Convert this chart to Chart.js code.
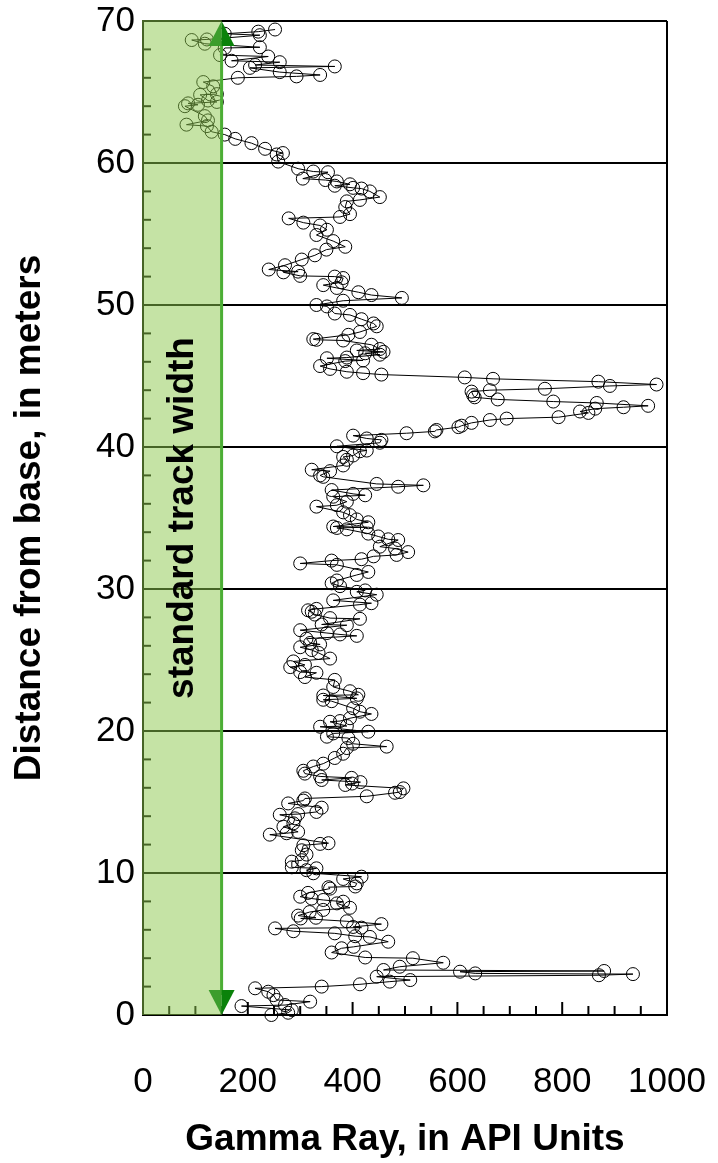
<!DOCTYPE html>
<html>
<head>
<meta charset="utf-8">
<script src="https://cdn.jsdelivr.net/npm/chart.js@4.4.0/dist/chart.umd.min.js"></script>
<style>
  html, body { margin: 0; padding: 0; background: #fff; }
  #wrap { width: 718px; height: 1163px; }
</style>
</head>
<body>
<div id="wrap"><canvas id="gammaChart" width="718" height="1163"></canvas></div>
<script>
// Gamma-Ray-Log: Abstand von der Basis (m) gegen Gamma Ray (API)

// Tiefe in m (von unten nach oben)
const tiefe = [
  0.0, 0.16, 0.35, 0.63, 0.7, 0.94, 1.06, 1.4, 1.64, 1.88, 2.0, 2.16, 2.35, 2.46, 2.7, 2.8, 2.88, 2.93, 3.05, 3.1, 3.17, 3.4, 3.68,
  4.0, 4.05, 4.4, 4.7, 4.8, 5.16, 5.5, 5.55, 5.75, 5.9, 6.1, 6.15, 6.2, 6.4, 6.6, 6.8, 6.85, 7.0, 7.25, 7.4,
  7.55, 7.86, 7.98, 8.1, 8.2, 8.33, 8.6, 8.9, 9.0, 9.05, 9.27, 9.58, 9.74, 9.98, 10.2, 10.33, 10.4, 10.8, 10.9, 11.3,
  11.6, 11.95, 12.05, 12.1, 12.7, 12.8, 12.9, 13.26, 13.5, 13.85, 14.1, 14.15, 14.3, 14.6, 14.9, 15.1, 15.25, 15.4, 15.65, 15.7,
  15.96, 16.2, 16.3, 16.4, 16.55, 16.7, 16.8, 17.0, 17.2, 17.5, 17.7, 18.1, 18.4, 18.8, 18.9, 19.1, 19.5, 19.6, 19.83, 19.95,
  20.3, 20.35, 20.65, 20.7, 20.9, 21.2, 21.36, 21.6, 22.1, 22.2, 22.3, 22.5, 22.55, 22.8, 23.1, 23.6, 23.8, 24.1, 24.15, 24.5,
  24.65, 24.9, 25.1, 25.5, 25.7, 25.9, 26.1, 26.2, 26.5, 26.7, 26.8, 26.9, 27.1, 27.45, 27.5, 27.9, 27.95, 28.2, 28.4, 28.5,
  28.6, 28.9, 29.0, 29.2, 29.6, 29.8, 29.9, 30.2, 30.4, 30.6, 30.99, 31.2, 31.7, 31.8, 32.0, 32.1, 32.3, 32.4, 32.6, 32.85,
  32.98, 33.45, 33.5, 33.7, 33.9, 34.2, 34.3, 34.35, 34.4, 34.7, 34.9, 35.2, 35.4, 35.8, 35.9, 36.15, 36.5, 36.6, 36.7, 36.97,
  37.2, 37.3, 37.4, 37.9, 38.0, 38.3, 38.4, 38.7, 39.1, 39.3, 39.4, 39.7, 39.75, 40.05, 40.3, 40.5, 40.6, 40.8, 40.97, 41.1,
  41.2, 41.4, 41.5, 41.7, 41.9, 42.0, 42.1, 42.4, 42.5, 42.7, 42.8, 42.9, 43.1, 43.2, 43.35, 43.5, 43.65, 43.9, 44.0, 44.1,
  44.3, 44.4, 44.6, 44.8, 44.9, 45.1, 45.2, 45.3, 45.5, 45.7, 46.05, 46.1, 46.25, 46.3, 46.5, 46.6, 46.7, 46.8, 46.9, 47.2,
  47.5, 47.55, 47.6, 47.9, 48.1, 48.5, 48.7, 49.0, 49.3, 49.4, 49.9, 50.0, 50.3, 50.5, 50.7, 50.9, 51.2, 51.4, 51.6, 51.9,
  52.0, 52.05, 52.3, 52.35, 52.5, 52.8, 53.2, 53.5, 53.9, 54.1, 54.5, 54.93, 55.3, 55.6, 55.8, 56.1, 56.2, 56.4, 56.9, 57.3,
  57.4, 57.6, 58.0, 58.2, 58.25, 58.4, 58.5, 58.7, 58.8, 58.9, 59.35, 59.4, 59.6, 60.1, 60.6, 60.7, 61.0, 61.4, 61.7, 62.0,
  62.2, 62.6, 62.7, 63.0, 63.3, 64.0, 64.1, 64.2, 64.3, 64.4, 64.8, 64.85, 65.4, 65.7, 66.0, 66.1, 66.2, 66.4, 66.7, 66.8,
  66.9, 67.1, 67.2, 67.5, 67.6, 68.1, 68.15, 68.4, 68.66, 68.7, 69.0, 69.1, 69.25, 69.4
];

// Gamma Ray in API Units, gleiche Reihenfolge wie tiefe
const gamma = [
  245, 277, 284, 188, 271, 319, 255, 249, 239, 214, 341, 414, 471, 510, 446, 870, 935, 634, 605, 880, 459, 490, 573,
  515, 424, 360, 379, 402, 468, 433, 405, 366, 287, 252, 417, 401, 455, 389, 301, 330, 296, 318, 344,
  395, 370, 382, 344, 322, 300, 315, 357, 354, 405, 408, 382, 417, 325, 312, 331, 284, 284, 303, 312,
  303, 306, 338, 354, 242, 274, 296, 268, 287, 290, 261, 296, 331, 341, 277, 306, 309, 427, 481, 490,
  497, 386, 399, 415, 341, 398, 338, 309, 306, 325, 344, 366, 382, 389, 465, 401, 392, 351, 363, 430,
  338, 389, 357, 376, 395, 436, 414, 401, 360, 344, 408, 344, 411, 395, 363, 366, 309, 331, 300, 281,
  309, 287, 357, 335, 322, 300, 338, 319, 312, 408, 376, 351, 300, 389, 341, 414, 357, 328, 322, 315,
  331, 414, 436, 363, 446, 408, 424, 376, 360, 370, 408, 430, 370, 300, 360, 417, 440, 484, 506, 481,
  452, 487, 468, 449, 430, 389, 370, 427, 363, 430, 408, 395, 382, 331, 370, 389, 363, 424, 401, 360,
  487, 535, 446, 344, 338, 357, 322, 382, 389, 382, 401, 414, 427, 370, 452, 455, 427, 401, 503, 557,
  560, 602, 608, 627, 662, 694, 793, 850, 834, 863, 917, 964, 866, 783, 677, 633, 630, 627, 662, 767,
  891, 980, 869, 668, 614, 455, 420, 389, 357, 338, 386, 420, 351, 389, 452, 424, 459, 408, 452, 436,
  382, 331, 325, 392, 414, 446, 440, 417, 395, 366, 351, 331, 382, 494, 436, 411, 370, 344, 379, 382,
  366, 300, 268, 296, 240, 271, 303, 328, 350, 386, 363, 331, 351, 338, 306, 278, 376, 395, 386, 389,
  414, 452, 433, 417, 401, 366, 395, 370, 348, 305, 353, 325, 296, 258, 255, 267, 233, 207, 176, 156,
  131, 122, 83, 124, 118, 80, 105, 86, 141, 124, 109, 141, 134, 115, 181, 293, 338, 261, 204, 366,
  214, 261, 169, 239, 147, 156, 223, 118, 93, 122, 223, 156, 220, 252
];

const xMin = 0, xMax = 1000, xStep = 200;
const yMin = 0, yMax = 70, yStep = 10;
const spurBreite = 150;   // standard track width (API)
const spurText = 'standard track width';

const punkte = gamma.map((g, i) => ({ x: g, y: tiefe[i] }));

const schrift = '"Liberation Sans", Arial, sans-serif';

// ========== Rahmen + Ticks nach innen ==========
const achsenTicks = {
  id: 'achsenTicks',
  beforeDatasetsDraw(chart) {
    const { ctx, chartArea: a, scales: { x, y } } = chart;
    ctx.save();
    ctx.strokeStyle = '#000';
    ctx.lineWidth = 2;
    ctx.beginPath();
    ctx.moveTo(a.right, a.top);
    ctx.lineTo(a.right, a.bottom);
    ctx.stroke();
    // links: alle 2 m
    for (let v = yMin + 2; v < yMax; v += 2) {
      if (v % yStep === 0) continue;
      const py = y.getPixelForValue(v);
      ctx.beginPath();
      ctx.moveTo(a.left, py);
      ctx.lineTo(a.left + 8, py);
      ctx.stroke();
    }
    // unten: alle 50 API, 200er länger
    for (let v = xMin + 50; v < xMax; v += 50) {
      const px = x.getPixelForValue(v);
      const len = v % xStep === 0 ? 13 : 9;
      ctx.beginPath();
      ctx.moveTo(px, a.bottom);
      ctx.lineTo(px, a.bottom - len);
      ctx.stroke();
    }
    ctx.restore();
  }
};

function spitze(ctx, cx, tipY, dir) {
  const h = 25, b = 13;
  ctx.fillStyle = '#3c9d2c';
  ctx.beginPath();
  ctx.moveTo(cx, tipY);
  ctx.lineTo(cx - b, tipY + dir * h);
  ctx.lineTo(cx, tipY + dir * h);
  ctx.closePath();
  ctx.fill();
  ctx.fillStyle = '#0a820a';
  ctx.beginPath();
  ctx.moveTo(cx, tipY);
  ctx.lineTo(cx + b, tipY + dir * h);
  ctx.lineTo(cx, tipY + dir * h);
  ctx.closePath();
  ctx.fill();
}

// ========== grünes Band + Doppelpfeil + Text ==========
const spurBand = {
  id: 'spurBand',
  afterDraw(chart) {
    const { ctx, scales: { x, y } } = chart;
    const x0 = x.getPixelForValue(xMin);
    const x1 = x.getPixelForValue(spurBreite);
    const yTop = y.getPixelForValue(yMax);
    const yBot = y.getPixelForValue(yMin);
    ctx.save();
    ctx.fillStyle = 'rgba(140, 200, 75, 0.5)';
    ctx.fillRect(x0 - 1, yTop - 1, x1 - x0 + 1, yBot - yTop + 1);

    ctx.strokeStyle = '#4cae35';
    ctx.lineWidth = 3;
    ctx.beginPath();
    ctx.moveTo(x1, yTop + 20);
    ctx.lineTo(x1, yBot - 20);
    ctx.stroke();
    spitze(ctx, x1, yTop, 1);
    spitze(ctx, x1, yBot, -1);

    ctx.translate(x.getPixelForValue(spurBreite / 2), (yTop + yBot) / 2);
    ctx.rotate(-Math.PI / 2);
    ctx.font = 'bold 37px ' + schrift;
    ctx.fillStyle = '#000';
    ctx.textAlign = 'center';
    ctx.textBaseline = 'middle';
    ctx.fillText(spurText, 0, 0);
    ctx.restore();
  }
};

const ctx = document.getElementById('gammaChart').getContext('2d');
new Chart(ctx, {
  type: 'scatter',
  data: {
    datasets: [{
      data: punkte,
      showLine: true,
      borderColor: '#000',
      borderWidth: 1,
      pointRadius: 6.5,
      pointBorderWidth: 1,
      pointBorderColor: '#000',
      pointBackgroundColor: 'rgba(0,0,0,0)',
      clip: false
    }]
  },
  options: {
    responsive: false,
    animation: false,
    devicePixelRatio: 1,
    layout: { padding: { top: 21, right: 51, left: 0, bottom: 0 } },
    plugins: { legend: { display: false }, tooltip: { enabled: false } },
    scales: {
      x: {
        type: 'linear',
        min: xMin, max: xMax,
        afterFit: s => { s.height = 148; s.paddingLeft = 0; s.paddingRight = 0; },
        ticks: {
          stepSize: xStep, color: '#000', font: { size: 35, family: schrift }, padding: 46, maxRotation: 0,
          callback: v => String(v)
        },
        grid: { display: false, drawTicks: false },
        border: { display: true, color: '#000', width: 2 },
        title: {
          display: true, text: 'Gamma Ray, in API Units', color: '#000',
          font: { size: 37, weight: 'bold', family: schrift }, padding: { top: 0, bottom: 1 }
        }
      },
      y: {
        type: 'linear',
        min: yMin, max: yMax,
        afterFit: s => { s.width = 143; s.paddingTop = 0; s.paddingBottom = 0; },
        ticks: { stepSize: yStep, color: '#000', font: { size: 35, family: schrift }, padding: 8 },
        grid: { color: '#000', lineWidth: 2, drawTicks: false },
        border: { display: true, color: '#000', width: 2 },
        title: {
          display: true, text: 'Distance from base, in meters', color: '#000',
          font: { size: 37, weight: 'bold', family: schrift }, padding: { top: 8, bottom: 0 }
        }
      }
    }
  },
  plugins: [achsenTicks, spurBand]
});
</script>
</body>
</html>
